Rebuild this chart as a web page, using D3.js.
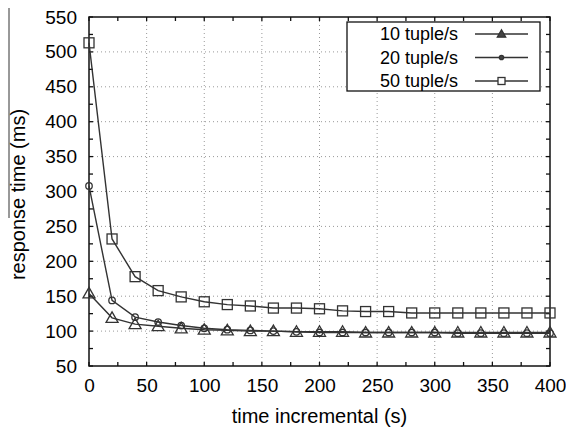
<!DOCTYPE html>
<html><head><meta charset="utf-8">
<script src="https://cdn.jsdelivr.net/npm/d3@7"></script>
<style>body{margin:0;background:#fff}svg{display:block}text{font-family:"Liberation Sans",Arial,sans-serif;fill:#000}</style>
</head><body>
<script>
const xValues = [0,20,40,60,80,100,120,140,160,180,200,220,240,260,280,300,320,340,360,380,400];
const s10 = [154,119,110,107,104,102,101,100,100,99,99,99,98,98,98,98,98,98,98,98,98];
const s20 = [308,144,120,113,108,104,102,101,100,99,98,98,98,98,98,98,97,97,97,97,97];
const s50 = [513,232,178,158,149,142,138,136,133,133,132,129,128,128,126,126,126,126,126,126,126];
const seriesNames = ["10 tuple/s","20 tuple/s","50 tuple/s"];
const xTicks = [0,50,100,150,200,250,300,350,400];
const yTicks = [50,100,150,200,250,300,350,400,450,500,550];

const W=566,H=433, m={l:89,r:16,t:17,b:67};
const svg=d3.select("body").append("svg").attr("width",W).attr("height",H);
const x=d3.scaleLinear().domain([0,400]).range([m.l,W-m.r]);
const y=d3.scaleLinear().domain([50,550]).range([H-m.b,m.t]);
const x0=x.range()[0],x1=x.range()[1],y0=y.range()[0],y1=y.range()[1];

// grid
const g=svg.append("g");
xTicks.slice(1,-1).forEach(v=>g.append("line").attr("x1",x(v)).attr("x2",x(v)).attr("y1",y0).attr("y2",y1)
  .attr("stroke","#999").attr("stroke-width",1).attr("stroke-dasharray","1,3"));
yTicks.slice(1,-1).forEach(v=>g.append("line").attr("y1",y(v)).attr("y2",y(v)).attr("x1",x0).attr("x2",x1)
  .attr("stroke","#999").attr("stroke-width",1).attr("stroke-dasharray","1,3"));

// axes with inward ticks
const xMinor=d3.range(0,401,25), yMinor=d3.range(50,551,25);
const bottom=d3.axisBottom(x).tickValues(xTicks).tickSize(0).tickPadding(13);
svg.append("g").attr("transform",`translate(0,${y0})`).call(bottom)
  .call(a=>{a.select(".domain").remove();a.selectAll("text").attr("font-size",19).attr("font-family","Liberation Sans, Arial").attr("fill","#000");});
const left=d3.axisLeft(y).tickValues(yTicks).tickSize(0).tickPadding(12);
svg.append("g").attr("transform",`translate(${x0},0)`).call(left)
  .call(a=>{a.select(".domain").remove();a.selectAll("text").attr("font-size",19).attr("font-family","Liberation Sans, Arial").attr("fill","#000");});
const tk=svg.append("g").attr("stroke","#111").attr("stroke-width",1.3);
xMinor.forEach(v=>{tk.append("line").attr("x1",x(v)).attr("x2",x(v)).attr("y1",y0).attr("y2",y0-4);
  tk.append("line").attr("x1",x(v)).attr("x2",x(v)).attr("y1",y1).attr("y2",y1+4);});
yMinor.forEach(v=>{tk.append("line").attr("y1",y(v)).attr("y2",y(v)).attr("x1",x0).attr("x2",x0+4);
  tk.append("line").attr("y1",y(v)).attr("y2",y(v)).attr("x1",x1).attr("x2",x1-4);});
svg.append("rect").attr("x",x0).attr("y",y1).attr("width",x1-x0).attr("height",y0-y1)
  .attr("fill","none").attr("stroke","#111").attr("stroke-width",1.5);

// series
const data=[s10,s20,s50];
const line=d3.line().x((d,i)=>x(xValues[i])).y(d=>y(d));
const col="#333";
function marker(sel,k,px,py,sz,fill){
  if(k===0){const h=sz;sel.append("path").attr("d",`M${px},${py-h*0.6}L${px+h*0.6},${py+h*0.45}L${px-h*0.6},${py+h*0.45}Z`)
      .attr("fill",fill).attr("stroke",col).attr("stroke-width",1.3);}
  else if(k===1){sel.append("circle").attr("cx",px).attr("cy",py).attr("r",sz*0.36).attr("fill",fill).attr("stroke",col).attr("stroke-width",1.3);}
  else {sel.append("rect").attr("x",px-sz/2).attr("y",py-sz/2).attr("width",sz).attr("height",sz).attr("fill",fill).attr("stroke",col).attr("stroke-width",1.3);}
}
[2,1,0].forEach(k=>{
  svg.append("path").datum(data[k]).attr("d",line).attr("fill","none").attr("stroke",col).attr("stroke-width",1.4);
});
[2,1,0].forEach(k=>{
  const mg=svg.append("g");
  data[k].forEach((d,i)=>marker(mg,k,x(xValues[i]),y(d),k===1?9:10,"none"));
});

// legend
const lg=svg.append("g");
lg.append("rect").attr("x",347).attr("y",22).attr("width",193).attr("height",69).attr("fill","#fff").attr("stroke","#111").attr("stroke-width",1.3);
seriesNames.forEach((n,k)=>{
  const yy=34+k*23.5;
  lg.append("text").attr("x",458).attr("y",yy+6).attr("text-anchor","end").attr("font-size",18).text(n);
  lg.append("line").attr("x1",475).attr("x2",528).attr("y1",yy).attr("y2",yy).attr("stroke",col).attr("stroke-width",1.3);
  marker(lg,k,501.5,yy,k===1?6:7,k===2?"#fff":"#444");
});

// axis labels
svg.append("text").attr("x",(x0+x1)/2).attr("y",423).attr("text-anchor","middle").attr("font-size",20).text("time incremental (s)");
svg.append("text").attr("transform",`translate(25,${(y0+y1)/2+3}) rotate(-90)`).attr("text-anchor","middle").attr("font-size",20).text("response time (ms)");
svg.append("line").attr("x1",9).attr("x2",9).attr("y1",8).attr("y2",218).attr("stroke","#333").attr("stroke-width",1);
</script>
</body></html>
